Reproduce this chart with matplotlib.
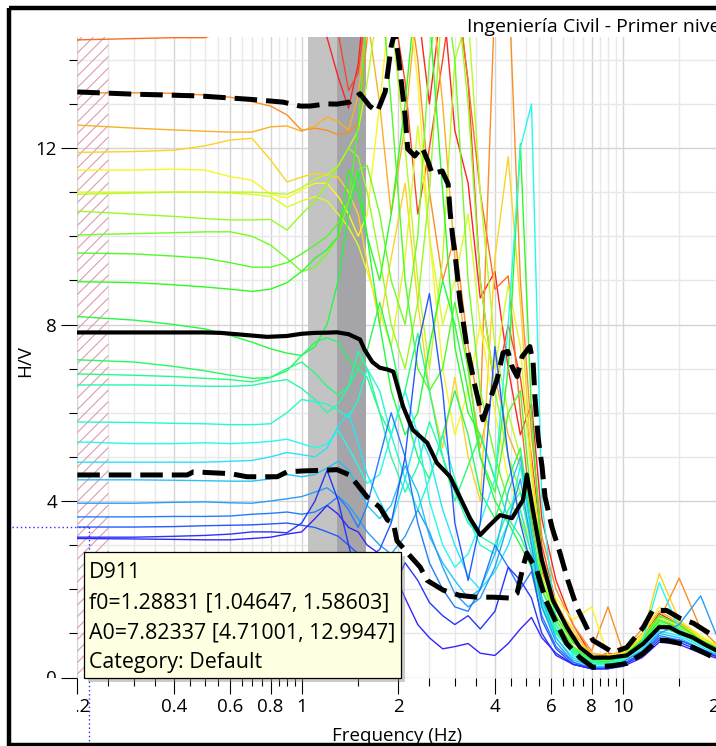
import numpy as np
import matplotlib
matplotlib.use("Agg")
import matplotlib.pyplot as plt
from matplotlib.colors import hsv_to_rgb
from matplotlib.collections import LineCollection
from matplotlib.patches import Rectangle
from matplotlib.lines import Line2D
from matplotlib.transforms import Affine2D, Bbox, TransformedBbox, BboxTransformTo
from matplotlib.ticker import FixedLocator, FixedFormatter, NullFormatter

plt.rcParams['font.family'] = ['Open Sans', 'DejaVu Sans']

# ---- H/V curves of every time window (common frequency grid) ----
FREQ = [0.2, 0.3, 0.4, 0.5, 0.6, 0.7, 0.8, 0.9, 1.0,
        1.1, 1.2, 1.3, 1.4, 1.5, 1.6, 1.75, 1.9, 2.1, 2.3,
        2.5, 2.75, 3.0, 3.3, 3.6, 4.0, 4.4, 4.8, 5.2, 5.6,
        6.2, 7.0, 8.0, 9.0, 10.0, 11.5, 13.0, 15.0, 17.5, 20.0]

WINDOWS = [
    [16.5, 16.5, 16.4, 16.4, 16.3, 16.2, 16.0, 15.8, 15.3,
     14.9, 14.5, 13.6, 12.9, 13.9, 16.0, 17.5, 18.5, 17.0, 15.2,
     13.0, 15.5, 12.4, 11.2, 8.6, 9.2, 7.0, 5.5, 6.2, 3.6,
     2.2, 1.2, 0.5, 0.45, 0.55, 0.9, 1.45, 1.2, 0.85, 0.65],
    [15.8, 15.8, 15.7, 15.6, 15.6, 15.5, 15.4, 15.3, 15.1,
     15.2, 15.6, 14.6, 13.3, 13.7, 15.4, 16.5, 15.5, 13.5, 10.5,
     12.0, 14.0, 16.0, 13.5, 9.0, 6.5, 8.0, 6.8, 5.0, 3.0,
     1.7, 0.8, 0.45, 0.55, 0.5, 0.8, 1.2, 1.0, 0.8, 0.6],
    [14.45, 14.48, 14.5, 14.5, 14.7, 15.2, 15.8, 16.0, 15.8,
     15.5, 15.6, 15.9, 16.2, 16.5, 16.0, 15.5, 16.0, 15.6, 15.0,
     15.8, 16.5, 16.0, 13.5, 11.0, 8.8, 9.1, 6.0, 3.6, 2.4,
     1.6, 0.9, 0.5, 0.5, 0.55, 0.85, 1.3, 1.15, 0.85, 0.6],
    [13.25, 13.25, 13.24, 13.2, 13.15, 13.05, 12.95, 12.75, 12.4,
     12.45, 12.4, 12.3, 12.36, 12.55, 14.5, 16.5, 17.0, 16.0, 14.0,
     11.0, 9.0, 10.0, 7.5, 6.0, 15.5, 16.0, 9.0, 5.5, 3.2,
     2.0, 1.2, 0.6, 1.6, 0.6, 1.1, 1.3, 2.25, 1.1, 0.7],
    [12.52, 12.45, 12.41, 12.38, 12.36, 12.36, 12.48, 12.5, 12.38,
     12.5, 12.7, 12.6, 12.4, 13.2, 15.0, 13.0, 10.5, 12.5, 15.5,
     16.0, 13.0, 9.5, 7.0, 5.2, 6.8, 5.5, 4.8, 4.0, 2.8,
     1.7, 1.0, 0.55, 0.5, 0.6, 1.0, 1.5, 1.25, 0.9, 0.7],
    [11.9, 11.92, 11.95, 12.05, 12.18, 12.22, 11.73, 11.23, 11.34,
     11.43, 11.38, 11.34, 11.0, 10.5, 9.4, 8.0, 9.5, 11.2, 8.5,
     6.5, 5.2, 6.8, 5.0, 4.0, 9.5, 11.8, 8.5, 4.8, 2.6,
     1.6, 1.1, 0.45, 0.45, 0.5, 0.9, 2.36, 1.3, 0.9, 0.7],
    [11.5, 11.5, 11.52, 11.5, 11.35, 11.27, 10.95, 10.87, 11.05,
     11.2, 11.2, 10.9, 10.5, 10.0, 10.5, 13.0, 15.5, 16.0, 13.5,
     10.0, 7.0, 5.5, 6.5, 8.0, 6.0, 4.5, 3.8, 3.0, 2.0,
     1.8, 1.3, 1.6, 0.5, 0.55, 0.95, 1.6, 1.3, 0.95, 0.7],
    [11.0, 11.0, 11.0, 11.0, 10.98, 10.95, 10.9, 10.66, 10.8,
     10.9, 10.8, 10.5, 10.2, 9.8, 9.2, 8.3, 7.5, 9.5, 12.5,
     10.0, 8.0, 9.0, 10.5, 8.0, 7.0, 8.9, 7.5, 4.5, 2.5,
     1.6, 0.9, 0.5, 0.45, 0.5, 0.9, 1.4, 1.2, 0.9, 0.65],
    [10.95, 10.98, 11.0, 11.0, 11.0, 11.0, 10.98, 10.95, 11.1,
     11.3, 11.4, 11.6, 12.0, 12.4, 13.5, 15.5, 15.0, 12.0, 9.0,
     7.0, 9.5, 14.0, 15.0, 11.0, 7.5, 6.0, 5.0, 3.8, 2.3,
     1.4, 0.8, 0.45, 0.4, 0.5, 0.85, 1.35, 1.15, 0.85, 0.65],
    [10.57, 10.5, 10.45, 10.4, 10.37, 10.37, 10.38, 10.14, 10.5,
     10.8, 11.2, 11.6, 12.0, 11.8, 11.0, 9.5, 8.0, 7.0, 8.5,
     11.0, 15.5, 16.0, 13.0, 9.0, 6.5, 5.0, 4.2, 3.2, 2.0,
     1.3, 0.7, 0.4, 0.4, 0.5, 0.85, 1.3, 1.1, 0.8, 0.6],
    [10.03, 10.06, 10.08, 10.1, 10.1, 10.0, 9.8, 9.5, 9.2,
     9.3, 9.6, 10.0, 10.8, 11.5, 11.6, 10.5, 9.0, 8.0, 10.0,
     14.0, 16.0, 14.0, 9.0, 6.5, 5.0, 4.0, 3.6, 2.8, 1.8,
     1.1, 0.6, 0.4, 0.35, 0.45, 0.8, 1.25, 1.05, 0.8, 0.6],
    [9.62, 9.6, 9.55, 9.5, 9.4, 9.3, 9.3, 9.4, 9.6,
     9.8, 10.0, 10.3, 10.8, 12.5, 15.0, 16.0, 13.0, 9.0, 7.0,
     6.5, 7.0, 8.5, 7.0, 5.0, 4.2, 6.0, 6.5, 4.0, 2.2,
     1.3, 0.7, 0.4, 0.4, 0.45, 0.8, 1.3, 1.1, 0.8, 0.6],
    [8.97, 8.95, 8.9, 8.85, 8.8, 8.75, 8.8, 8.95, 9.2,
     9.5, 9.7, 10.0, 11.5, 11.0, 10.0, 9.0, 10.5, 13.0, 16.0,
     15.0, 11.0, 7.5, 6.0, 5.5, 4.5, 7.0, 12.1, 6.0, 2.6,
     1.4, 0.8, 0.45, 0.4, 0.45, 0.85, 1.4, 1.2, 0.85, 0.65],
    [8.18, 8.1, 8.0, 7.9, 7.75, 7.6, 7.45, 7.35, 7.3,
     7.5, 8.0, 9.0, 10.5, 11.5, 10.0, 8.0, 6.5, 5.5, 6.0,
     7.5, 9.0, 8.0, 6.5, 5.0, 4.0, 3.5, 3.0, 2.5, 1.6,
     1.0, 0.55, 0.35, 0.35, 0.4, 0.7, 1.15, 1.0, 0.75, 0.55],
    [7.2, 7.15, 7.05, 6.95, 6.85, 6.78, 6.8, 6.95, 7.3,
     7.6, 7.7, 7.6, 7.2, 7.0, 7.4, 8.5, 7.5, 6.0, 5.0,
     4.5, 5.5, 6.5, 5.5, 4.2, 3.6, 4.5, 5.2, 3.5, 2.0,
     1.2, 0.65, 0.4, 0.35, 0.45, 0.8, 1.3, 1.1, 0.8, 0.6],
    [6.88, 6.85, 6.82, 6.78, 6.75, 6.7, 6.8, 7.0, 7.15,
     6.9, 6.6, 6.4, 6.6, 7.0, 6.8, 6.0, 5.5, 6.5, 7.8,
     6.5, 5.0, 4.0, 4.8, 5.5, 4.5, 3.6, 3.2, 2.6, 1.7,
     1.05, 0.6, 0.35, 0.3, 0.4, 0.75, 1.2, 1.05, 0.8, 0.6],
    [6.63, 6.63, 6.62, 6.6, 6.6, 6.62, 6.7, 6.75, 6.55,
     6.3, 6.0, 6.2, 6.6, 7.4, 7.0, 6.0, 5.0, 4.2, 4.8,
     5.8, 5.0, 4.2, 3.5, 3.2, 3.0, 3.8, 4.2, 3.0, 1.8,
     1.1, 0.6, 0.35, 0.3, 0.4, 0.7, 1.15, 1.0, 0.75, 0.55],
    [5.79, 5.78, 5.76, 5.75, 5.73, 5.73, 5.75, 6.0, 6.3,
     6.25, 6.2, 6.05, 5.9, 6.3, 7.0, 6.5, 5.5, 4.5, 3.8,
     4.5, 5.5, 4.5, 3.6, 3.0, 2.8, 3.5, 4.8, 3.2, 1.7,
     1.0, 0.55, 0.3, 0.3, 0.4, 0.7, 1.15, 1.0, 0.75, 0.55],
    [5.34, 5.3, 5.3, 5.32, 5.3, 5.32, 5.35, 5.4, 5.3,
     5.2, 5.3, 5.6, 5.2, 4.8, 4.4, 4.6, 5.5, 6.5, 5.5,
     4.0, 3.0, 2.5, 2.8, 3.5, 4.5, 8.0, 12.0, 13.0, 4.0,
     1.2, 0.5, 0.3, 0.3, 0.45, 0.8, 2.15, 1.1, 0.8, 0.55],
    [4.88, 4.88, 4.88, 4.88, 4.9, 4.92, 5.0, 5.1, 5.05,
     5.0, 5.2, 5.7, 6.0, 5.3, 4.6, 4.0, 3.5, 4.5, 5.6,
     5.0, 3.8, 3.0, 2.3, 2.0, 2.4, 3.0, 3.8, 2.8, 1.6,
     0.9, 0.45, 0.25, 0.25, 0.35, 0.65, 1.05, 0.95, 0.7, 0.5],
    [4.48, 4.48, 4.47, 4.46, 4.45, 4.45, 4.5, 4.6, 4.55,
     4.6, 4.75, 4.9, 4.7, 4.3, 3.9, 3.6, 3.9, 4.8, 4.2,
     3.2, 2.6, 2.2, 1.8, 2.0, 2.8, 4.2, 5.0, 3.3, 1.8,
     0.9, 0.4, 0.25, 0.25, 0.35, 0.6, 1.0, 0.9, 0.65, 0.5],
    [3.95, 3.95, 3.97, 3.98, 3.96, 3.95, 4.0, 4.05, 4.1,
     4.2, 4.3, 4.1, 3.9, 3.6, 3.3, 3.0, 2.8, 3.2, 3.8,
     3.3, 2.5, 1.9, 1.6, 1.8, 2.5, 3.5, 4.5, 3.0, 1.6,
     0.8, 0.35, 0.22, 0.25, 0.35, 0.6, 1.0, 1.2, 1.85, 0.8],
    [3.64, 3.64, 3.65, 3.65, 3.66, 3.7, 3.72, 3.75, 3.7,
     3.75, 3.9, 4.1, 3.8, 3.4, 3.9, 5.0, 6.0, 5.0, 3.5,
     2.6, 2.0, 1.6, 1.5, 2.0, 3.0, 2.5, 2.0, 2.4, 1.4,
     0.7, 0.35, 0.2, 0.22, 0.3, 0.55, 0.95, 0.85, 0.65, 0.45],
    [3.41, 3.41, 3.42, 3.44, 3.45, 3.46, 3.48, 3.5, 3.45,
     3.4, 3.3, 3.2, 3.0, 2.8, 2.7, 2.9, 3.5, 5.0, 7.5,
     8.7, 6.5, 3.5, 2.2, 3.5, 7.5, 5.0, 3.5, 2.5, 1.3,
     0.65, 0.3, 0.2, 0.2, 0.3, 0.55, 0.9, 0.85, 0.65, 0.45],
    [3.18, 3.18, 3.2, 3.22, 3.25, 3.3, 3.3, 3.28, 3.5,
     4.0, 4.7, 4.0, 3.0, 2.2, 1.8, 1.6, 1.9, 2.6, 2.2,
     1.7, 1.4, 1.2, 1.4, 1.1, 1.5, 2.5, 2.2, 1.8, 1.0,
     0.5, 0.3, 0.2, 0.2, 0.28, 0.5, 0.85, 0.8, 0.6, 0.45],
    [3.15, 3.14, 3.13, 3.12, 3.12, 3.15, 3.18, 3.25, 3.3,
     3.6, 3.9, 3.7, 3.4, 3.3, 3.0, 2.8, 2.5, 1.8, 1.2,
     0.9, 0.65, 0.7, 0.77, 0.55, 0.5, 0.77, 1.1, 1.36, 0.9,
     0.55, 0.3, 0.2, 0.2, 0.25, 0.45, 0.8, 0.75, 0.55, 0.42],
]

# ---- average curve and the two standard-deviation curves ----
MEAN_F = [0.2, 0.3, 0.4, 0.5, 0.56, 0.65, 0.78, 0.9, 1.0, 1.1,
          1.2, 1.28831, 1.4, 1.52, 1.57, 1.66, 1.75, 1.85, 1.93, 2.07,
          2.22, 2.46, 2.64, 2.9, 3.11, 3.35, 3.6, 3.85, 4.15, 4.52,
          4.89, 5.03, 5.25, 5.6, 6.06, 6.7, 7.36, 8.07, 9.1, 10.3,
          11.6, 13.0, 14.0, 15.0, 16.5, 18.0, 20.0]
MEAN_HV = [7.82, 7.82, 7.82, 7.82, 7.81, 7.77, 7.72, 7.74, 7.79, 7.81,
           7.815, 7.82337, 7.78, 7.66, 7.43, 7.15, 7.02, 6.98, 6.93, 6.14,
           5.61, 5.32, 4.86, 4.55, 4.09, 3.6, 3.23, 3.45, 3.68, 3.61,
           4.02, 4.6, 3.8, 2.66, 1.75, 1.14, 0.68, 0.45, 0.45, 0.5,
           0.77, 1.14, 1.14, 1.02, 0.91, 0.75, 0.58]

UP_F = [0.2, 0.3, 0.48, 0.7, 0.875, 0.99, 1.06, 1.2, 1.28831, 1.41,
        1.52, 1.63, 1.72, 1.82, 1.9, 1.95, 2.0, 2.05, 2.1, 2.14,
        2.25, 2.37, 2.48, 2.55, 2.74, 2.86, 2.9, 2.96, 3.0, 3.11,
        3.27, 3.47, 3.67, 3.86, 4.06, 4.24, 4.39, 4.52, 4.69, 4.86,
        5.14, 5.26, 5.33, 5.45, 5.61, 5.73, 6.02, 6.38, 6.75, 7.2,
        8.08, 9.33, 10.3, 11.6, 12.4, 13.7, 15.1, 16.6, 19.5, 20.0]
UP_HV = [13.27, 13.22, 13.18, 13.1, 13.04, 12.95, 12.95, 13.0, 12.9947, 13.04,
         13.23, 12.95, 12.82, 13.27, 14.3, 14.62, 14.09, 13.41, 12.73, 11.98,
         11.82, 12.02, 11.68, 11.41, 11.48, 11.18, 10.55, 9.93, 9.64, 8.57,
         7.5, 6.59, 5.84, 6.3, 6.75, 7.36, 7.39, 7.05, 6.82, 7.27,
         7.5, 7.14, 6.36, 5.45, 4.77, 4.09, 3.41, 2.82, 2.2, 1.59,
         0.84, 0.57, 0.68, 1.14, 1.52, 1.52, 1.34, 1.23, 0.91, 0.88]

LOW_F = [0.2, 0.3, 0.44, 0.46, 0.6, 0.675, 0.84, 0.9, 1.0, 1.2,
         1.28831, 1.41, 1.6, 1.75, 1.85, 1.93, 1.98, 2.18, 2.34, 2.46,
         2.76, 3.11, 3.51, 3.95, 4.46, 4.69, 4.89, 5.03, 5.4, 5.76,
         6.22, 6.69, 7.36, 8.08, 9.33, 10.3, 11.6, 12.8, 13.7, 15.1,
         16.6, 19.5, 20.0]
LOW_HV = [4.59, 4.59, 4.59, 4.66, 4.62, 4.55, 4.55, 4.66, 4.68, 4.7,
          4.71001, 4.59, 4.09, 3.86, 3.57, 3.5, 3.1, 2.75, 2.5, 2.2,
          1.98, 1.86, 1.82, 1.82, 1.8, 1.91, 2.5, 2.82, 2.43, 1.75,
          1.23, 0.77, 0.45, 0.23, 0.27, 0.32, 0.55, 0.84, 0.84, 0.77,
          0.68, 0.43, 0.42]

# peak statistics
F0 = 1.28831
F0_RANGE = (1.04647, 1.58603)
A0 = 7.82337
A0_RANGE = (4.71001, 12.9947)
STATION = 'D911'
CATEGORY = 'Default'
TITLE = 'Ingeniería Civil - Primer nivel'

LOW_LIMIT = (0.2, 0.25)          # frequencies below the validity limit
CURSOR = (0.218, 3.41)           # mouse position (f, H/V)

X_MAJOR = [0.2, 0.4, 0.6, 0.8, 1, 2, 4, 6, 8, 10, 20]
X_LABELS = ['0.2', '0.4', '0.6', '0.8', '1', '2', '4', '6', '8', '10', '20']
X_MINOR = ([round(v, 2) for v in np.arange(0.25, 1.0, 0.05) if round(v, 2) not in (0.4, 0.6, 0.8)]
           + [1.5] + [v for v in np.arange(2.5, 10, 0.5) if v not in (4, 6, 8)] + [15])
Y_MAJOR = [0, 4, 8, 12]
Y_MINOR = list(range(0, 15))

# ---- figure / axes ----
W, H = 716, 746
fig = plt.figure(figsize=(W / 100, H / 100), dpi=100)
fig.patch.set_facecolor('white')
PX = Affine2D().scale(1 / W, -1 / H).translate(0, 1) + fig.transFigure

x_left, y_bottom, y_top = 77.3, 677.5, 37.0
px_per_decade = 321.0
xmax = 25.0
ymax = (y_bottom - y_top) / 44.125
ax_w = px_per_decade * np.log10(xmax / 0.2)
ax = fig.add_axes([x_left / W, 1 - y_bottom / H, ax_w / W, (y_bottom - y_top) / H])
ax.set_xscale('log')
ax.set_xlim(0.2, xmax)
ax.set_ylim(0, ymax)
ax.patch.set_facecolor('white')
for s in ax.spines.values():
    s.set_visible(False)

ax.xaxis.set_major_locator(FixedLocator(X_MAJOR))
ax.xaxis.set_major_formatter(FixedFormatter(X_LABELS))
ax.xaxis.set_minor_locator(FixedLocator(X_MINOR))
ax.xaxis.set_minor_formatter(NullFormatter())
ax.yaxis.set_major_locator(FixedLocator(Y_MAJOR))
ax.yaxis.set_minor_locator(FixedLocator(Y_MINOR))
ax.yaxis.set_minor_formatter(NullFormatter())
ax.tick_params(which='major', length=11.5, width=0.8, color='black',
               labelsize=13.5, pad=3.2, direction='out')
ax.tick_params(which='minor', length=5.5, width=0.8, color='black', direction='out')

ax.set_axisbelow(True)
ax.grid(which='major', color='#d4d4d4', lw=1.0)
ax.grid(which='minor', color='#e8e8e8', lw=1.0)

# f0 uncertainty bands
ax.axvspan(F0_RANGE[0], F0, color='#c3c3c3', lw=0, zorder=1)
ax.axvspan(F0, F0_RANGE[1], color='#a4a4a9', lw=0, zorder=1)

# hatched area below the low-frequency limit
box = TransformedBbox(Bbox([[LOW_LIMIT[0], 0], [LOW_LIMIT[1], ymax]]), ax.transData)
bw, bh = box.width, box.height
segs = []
for c in np.arange(-bw, bh, 11.5):
    xa, xb = max(0, -c), min(bw, bh - c)
    segs.append([(xa / bw, (xa + c) / bh), (xb / bw, (xb + c) / bh)])
ax.add_collection(LineCollection(segs, transform=BboxTransformTo(box),
                                 colors='#e09aae', lw=0.8, zorder=1.2), autolim=False)

# individual windows, coloured from blue (low) to red (high)
n = len(WINDOWS)
for i, hv in enumerate(WINDOWS):
    col = hsv_to_rgb((0.68 * i / (n - 1), 0.85, 0.98))
    ax.plot(FREQ, hv, color=col, lw=1.0, zorder=2)

ax.plot(MEAN_F, MEAN_HV, color='black', lw=3.0, zorder=4, solid_joinstyle='round')
ax.plot(UP_F, UP_HV, color='black', lw=3.6, ls=(0, (4.5, 1.8)), zorder=4)
ax.plot(LOW_F, LOW_HV, color='black', lw=3.6, ls=(0, (4.5, 1.8)), zorder=4)

# tick labels are clipped to the plot extent
for lab in ax.get_xticklabels():
    lab.set_clip_on(True)
    lab.set_clip_box(Bbox.from_extents(x_left, 0, 3000, H))
for lab in ax.get_yticklabels():
    lab.set_clip_on(True)
    lab.set_clip_box(Bbox.from_extents(0, H - y_bottom, 3000, H))

# ---- texts ----
fig.text(467, 31.5, TITLE, transform=PX, fontsize=14, va='baseline', ha='left')
fig.text(397, 741, 'Frequency (Hz)', transform=PX, fontsize=13.5, va='baseline', ha='center')
fig.text(25.5, 361, 'H/V', transform=PX, fontsize=13.5, rotation=90, va='center', ha='center')

# ---- mouse tracking lines ----
cx, cy = ax.transData.transform(CURSOR)
cy = H - cy
fig.add_artist(Line2D([12, cx], [cy, cy], transform=PX, color='#2b2bff', lw=1.0, ls=(0, (1, 2))))
fig.add_artist(Line2D([cx, cx], [cy, H], transform=PX, color='#2b2bff', lw=1.0, ls=(0, (1, 2))))

# ---- tooltip ----
tl, tt, tw, th = cx - 5, cy + 25, 317, 126
fig.add_artist(Rectangle((tl + 4, tt + 4), tw, th, transform=PX, facecolor='#8c8c8c',
                         alpha=0.45, lw=0, zorder=5))
fig.add_artist(Rectangle((tl, tt), tw, th, transform=PX, facecolor='#ffffe1',
                         edgecolor='black', lw=0.9, zorder=6))
lines = [STATION,
         'f0={} [{}, {}]'.format(F0, *F0_RANGE),
         'A0={} [{}, {}]'.format(A0, *A0_RANGE),
         'Category: {}'.format(CATEGORY)]
for k, t in enumerate(lines):
    fig.text(tl + 5, tt + 26 + 30 * k, t, transform=PX, fontsize=15.4,
             va='baseline', ha='left', zorder=7)

# ---- window frame ----
fig.add_artist(Rectangle((9.2, 7.5), W + 50, 737.5, transform=PX, fill=False,
                         edgecolor='black', lw=3.2, zorder=10, clip_on=False))

fig.savefig('out.png', dpi=100)
